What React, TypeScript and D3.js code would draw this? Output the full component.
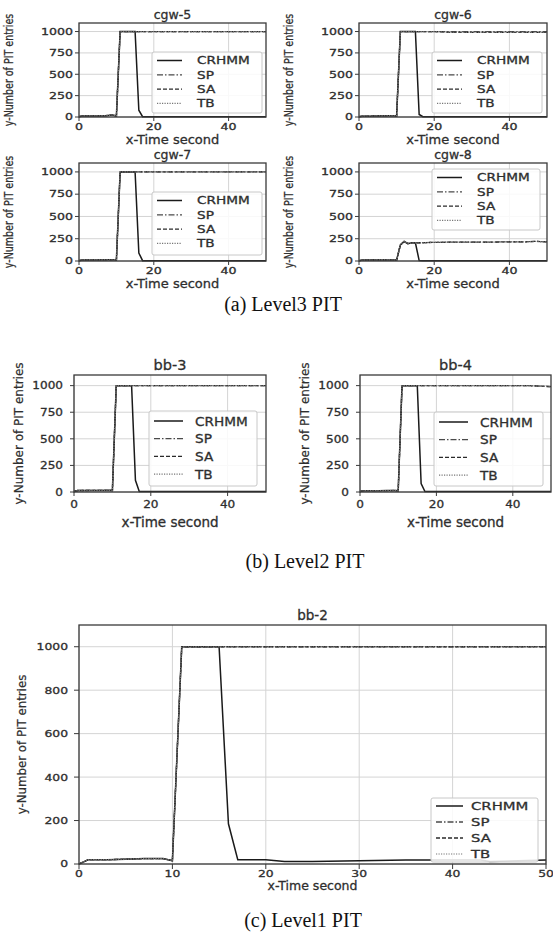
import * as d3 from "d3";

// seconds sampled along the x axis
const seconds = [0, 1, 3, 5, 7, 9, 10, 11, 12, 13, 14, 15, 16, 17, 20, 22, 25, 30, 35, 40, 43, 44, 47, 50];

const seriesNames = ["CRHMM", "SP", "SA", "TB"];

const xTicksSmall = [0, 20, 40];
const yTicksSmall = [0, 250, 500, 750, 1000];
const xTicksLarge = [0, 10, 20, 30, 40, 50];
const yTicksLarge = [0, 200, 400, 600, 800, 1000];

// Level3 PIT
const cgw5Crhmm = [4, 12, 12, 13, 14, 22, 12, 1000, 1000, 1000, 1000, 1000, 80, 4, 4, 4, 4, 4, 4, 4, 4, 4, 4, 4];
const cgw5Others = [4, 12, 13, 14, 15, 22, 12, 1000, 1000, 1000, 1000, 1000, 1000, 1000, 1000, 1000, 1000, 1000, 1000, 1000, 1000, 1000, 1000, 1000];
const cgw6Crhmm = [4, 10, 10, 12, 14, 16, 12, 1000, 1000, 1000, 1000, 1000, 30, 4, 4, 4, 4, 4, 4, 4, 4, 4, 4, 4];
const cgw6Sp = [4, 10, 11, 12, 14, 16, 12, 1000, 1000, 1000, 1000, 1000, 1000, 1000, 1000, 1000, 1000, 1000, 1000, 1000, 1000, 1000, 1000, 1000];
const cgw6Sa = [4, 10, 11, 12, 14, 16, 12, 1000, 1000, 1000, 1000, 1000, 1000, 1000, 1000, 995, 990, 990, 990, 990, 990, 990, 990, 990];
const cgw7Crhmm = [4, 12, 12, 12, 13, 14, 12, 1000, 1000, 1000, 1000, 1000, 90, 4, 4, 4, 4, 4, 4, 4, 4, 4, 4, 4];
const cgw7Others = [4, 12, 12, 13, 13, 14, 12, 1000, 1000, 1000, 1000, 1000, 1000, 1000, 1000, 1000, 1000, 1000, 1000, 1000, 1000, 1000, 1000, 1000];
const cgw8Crhmm = [4, 10, 10, 12, 12, 12, 10, 180, 220, 195, 205, 205, 5, 4, 4, 4, 4, 4, 4, 4, 4, 4, 4, 4];
const cgw8Others = [4, 10, 10, 12, 12, 12, 10, 180, 220, 195, 205, 205, 205, 205, 210, 210, 212, 212, 212, 215, 215, 215, 220, 215];

// Level2 PIT
const bb3Crhmm = [4, 14, 14, 14, 15, 16, 14, 1000, 1000, 1000, 1000, 1000, 110, 4, 4, 4, 4, 4, 4, 4, 4, 4, 4, 4];
const bb3Others = [4, 14, 14, 15, 15, 16, 14, 1000, 1000, 1000, 1000, 1000, 1000, 1000, 1000, 1000, 1000, 1000, 1000, 1000, 1000, 1000, 1000, 1000];
const bb4Crhmm = [4, 12, 12, 12, 13, 14, 12, 1000, 1000, 1000, 1000, 1000, 80, 5, 5, 5, 5, 5, 5, 5, 5, 5, 5, 5];
const bb4Others = [4, 12, 12, 13, 13, 14, 12, 1000, 1000, 1000, 1000, 1000, 1000, 1000, 1000, 1000, 1000, 1000, 1000, 1000, 1000, 1000, 995, 990];

// Level1 PIT
const bb2Crhmm = [0, 20, 20, 22, 25, 25, 15, 1000, 1000, 1000, 1000, 1000, 185, 20, 20, 12, 12, 15, 18, 18, 18, 12, 15, 18];
const bb2Others = [0, 20, 20, 22, 25, 25, 15, 1000, 1000, 1000, 1000, 1000, 1000, 1000, 1000, 1000, 1000, 1000, 1000, 1000, 1000, 1000, 1000, 1000];

const SANS = "DejaVu Sans";
const SERIF = "Liberation Serif";
const INK = "#2e2e2e";

const lineStyles = [
  { stroke: "#1a1a1a", dash: "none", w: 1.5 },
  { stroke: "#4a4a4a", dash: "6,2,1.5,2", w: 1.3 },
  { stroke: "#2a2a2a", dash: "4,2", w: 1.3 },
  { stroke: "#777", dash: "1.2,1.3", w: 1.2 },
];

// sans text gets a hair of stroke to mimic the soft, heavy look of the scan
function T({ x, y, size, sx = 1, anchor = "middle", family = SANS, fill = INK, dy, children }: any) {
  const sans = family === SANS;
  return (
    <text
      transform={`translate(${x},${y}) scale(${sx},1)`}
      fontSize={size}
      fontFamily={family}
      textAnchor={anchor}
      fill={fill}
      stroke={sans ? fill : "none"}
      strokeWidth={sans ? 0.3 : 0}
      dy={dy}
    >
      {children}
    </text>
  );
}

function Panel({ title, series, box, legend, st, xTicks, yTicks }: any) {
  const x = d3.scaleLinear().domain([0, 50]).range([box.l, box.r]);
  const y = d3.scaleLinear().domain([0, 1100]).range([box.b, box.t]);
  const line = d3
    .line<number>()
    .x((_, i) => x(seconds[i]))
    .y((d) => y(d));
  const cx = (box.l + box.r) / 2;
  const cy = (box.t + box.b) / 2;

  return (
    <g>
      {/* grid */}
      {xTicks.map((t: number) => (
        <line key={"gx" + t} x1={x(t)} x2={x(t)} y1={box.t} y2={box.b} stroke="#d4d4d4" strokeWidth={1} />
      ))}
      {yTicks.map((t: number) => (
        <line key={"gy" + t} x1={box.l} x2={box.r} y1={y(t)} y2={y(t)} stroke="#d4d4d4" strokeWidth={1} />
      ))}
      {/* series */}
      {series.map((vals: number[], i: number) => (
        <path
          key={seriesNames[i]}
          d={line(vals) || ""}
          fill="none"
          stroke={lineStyles[i].stroke}
          strokeWidth={lineStyles[i].w}
          strokeDasharray={lineStyles[i].dash}
        />
      ))}
      {/* frame */}
      <rect x={box.l} y={box.t} width={box.r - box.l} height={box.b - box.t} fill="none" stroke="#3a3a3a" strokeWidth={1.3} />
      {/* ticks */}
      {xTicks.map((t: number) => (
        <g key={"tx" + t}>
          <line x1={x(t)} x2={x(t)} y1={box.b} y2={box.b + st.tickLen} stroke="#3a3a3a" />
          <T x={x(t)} y={box.b + st.xTickDy} size={st.tick} sx={st.tickSx}>
            {t}
          </T>
        </g>
      ))}
      {yTicks.map((t: number) => (
        <g key={"ty" + t}>
          <line x1={box.l - st.tickLen} x2={box.l} y1={y(t)} y2={y(t)} stroke="#3a3a3a" />
          <T x={box.l - st.tickGap} y={y(t)} size={st.tick} sx={st.tickSx} anchor="end" dy="0.36em">
            {t}
          </T>
        </g>
      ))}
      {/* labels */}
      <T x={cx} y={box.t - st.titleGap} size={st.title}>
        {title}
      </T>
      <T x={cx} y={box.b + st.xlabelDy} size={st.xlabel}>
        x-Time second
      </T>
      <text
        transform={`translate(${box.l - st.ylabelOff},${cy}) rotate(-90) scale(1,${st.ylabelSx})`}
        fontSize={st.ylabel}
        fontFamily={SANS}
        textAnchor="middle"
        fill={INK}
        stroke={INK}
        strokeWidth={0.2}
        dy="0.35em"
      >
        y-Number of PIT entries
      </text>
      {/* legend */}
      <g>
        <rect x={legend.x} y={legend.y} width={legend.w} height={legend.h} rx={2} fill="#fff" fillOpacity={0.85} stroke="#c8c8c8" />
        {seriesNames.map((name, i) => {
          const ry = legend.y + st.legendFirst + i * st.legendRow;
          return (
            <g key={name}>
              <line
                x1={legend.x + st.handle[0]}
                x2={legend.x + st.handle[1]}
                y1={ry}
                y2={ry}
                stroke={lineStyles[i].stroke}
                strokeWidth={lineStyles[i].w}
                strokeDasharray={lineStyles[i].dash}
              />
              <T x={legend.x + st.textX} y={ry} size={st.legend} sx={st.legendSx} anchor="start" dy="0.36em">
                {name}
              </T>
            </g>
          );
        })}
      </g>
    </g>
  );
}

const styleA = {
  tick: 9, tickSx: 1.4, tickLen: 4, tickGap: 6, xTickDy: 13,
  title: 12.5, titleGap: 4, xlabel: 13, xlabelDy: 27,
  ylabel: 9.5, ylabelSx: 1.3, ylabelOff: 70,
  legend: 10.5, legendSx: 1.3, legendFirst: 8.5, legendRow: 14.3, handle: [5, 30], textX: 45,
};
const styleB = {
  tick: 10.5, tickSx: 1.15, tickLen: 4, tickGap: 11, xTickDy: 16,
  title: 14.5, titleGap: 5, xlabel: 13.5, xlabelDy: 35,
  ylabel: 12, ylabelSx: 1.05, ylabelOff: 55,
  legend: 13, legendSx: 1.05, legendFirst: 10, legendRow: 17.7, handle: [5, 34], textX: 46,
};
const styleC = {
  tick: 9.5, tickSx: 1.3, tickLen: 5, tickGap: 11, xTickDy: 13,
  title: 13.5, titleGap: 5, xlabel: 12.5, xlabelDy: 26,
  ylabel: 11.8, ylabelSx: 1.05, ylabelOff: 57,
  legend: 11, legendSx: 1.35, legendFirst: 8, legendRow: 16, handle: [5, 32], textX: 40,
};

export default function App() {
  return (
    <svg width={553} height={937} style={{ position: "absolute", left: 0, top: 0, background: "#fff" }}>
      <rect width={553} height={937} fill="#fff" />
      <Panel
        title="cgw-5"
        series={[cgw5Crhmm, cgw5Others, cgw5Others, cgw5Others]}
        box={{ l: 79, r: 266, t: 23, b: 117 }}
        legend={{ x: 152, y: 52, w: 110, h: 61 }}
        st={styleA}
        xTicks={xTicksSmall}
        yTicks={yTicksSmall}
      />
      <Panel
        title="cgw-6"
        series={[cgw6Crhmm, cgw6Sp, cgw6Sa, cgw6Sa]}
        box={{ l: 359, r: 547, t: 23, b: 117 }}
        legend={{ x: 432, y: 52, w: 110, h: 61 }}
        st={styleA}
        xTicks={xTicksSmall}
        yTicks={yTicksSmall}
      />
      <Panel
        title="cgw-7"
        series={[cgw7Crhmm, cgw7Others, cgw7Others, cgw7Others]}
        box={{ l: 79, r: 266, t: 163, b: 261 }}
        legend={{ x: 152, y: 192, w: 110, h: 63 }}
        st={styleA}
        xTicks={xTicksSmall}
        yTicks={yTicksSmall}
      />
      <Panel
        title="cgw-8"
        series={[cgw8Crhmm, cgw8Others, cgw8Others, cgw8Others]}
        box={{ l: 359, r: 547, t: 163, b: 261 }}
        legend={{ x: 432, y: 169, w: 108, h: 61 }}
        st={styleA}
        xTicks={xTicksSmall}
        yTicks={yTicksSmall}
      />
      <T x={283} y={311} size={20} family={SERIF} fill="#111">
        (a) Level3 PIT
      </T>

      <Panel
        title="bb-3"
        series={[bb3Crhmm, bb3Others, bb3Others, bb3Others]}
        box={{ l: 74, r: 266, t: 375, b: 492 }}
        legend={{ x: 149, y: 411, w: 108, h: 75 }}
        st={styleB}
        xTicks={xTicksSmall}
        yTicks={yTicksSmall}
      />
      <Panel
        title="bb-4"
        series={[bb4Crhmm, bb4Others, bb4Others, bb4Others]}
        box={{ l: 360, r: 551, t: 375, b: 492 }}
        legend={{ x: 434, y: 412, w: 109, h: 74 }}
        st={styleB}
        xTicks={xTicksSmall}
        yTicks={yTicksSmall}
      />
      <T x={305} y={568} size={20} family={SERIF} fill="#111">
        (b) Level2 PIT
      </T>

      <Panel
        title="bb-2"
        series={[bb2Crhmm, bb2Others, bb2Others, bb2Others]}
        box={{ l: 79, r: 546, t: 625, b: 864 }}
        legend={{ x: 431, y: 798, w: 107, h: 64 }}
        st={styleC}
        xTicks={xTicksLarge}
        yTicks={yTicksLarge}
      />
      <T x={303} y={927} size={20} family={SERIF} fill="#111">
        (c) Level1 PIT
      </T>
    </svg>
  );
}
